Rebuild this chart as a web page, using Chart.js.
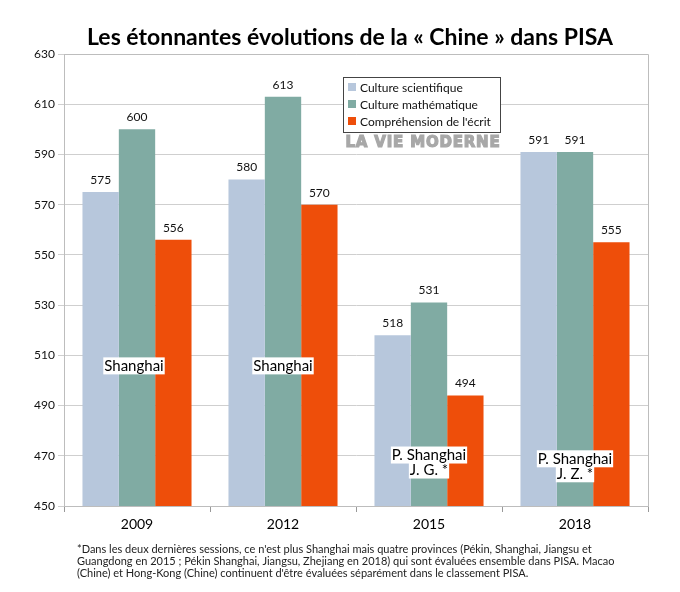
<!DOCTYPE html>
<html><head><meta charset="utf-8">
<script src="https://cdn.jsdelivr.net/npm/chart.js@4/dist/chart.umd.min.js"></script>
<style>html,body{margin:0;padding:0;background:#fff}#wrap{width:680px;height:592px;position:relative}</style>
</head><body><div id="wrap"><canvas id="c" width="680" height="592"></canvas></div>
<script>
const categories = ['2009', '2012', '2015', '2018'];
const seriesNames = ['Culture scientifique', 'Culture mathématique', "Compréhension de l'écrit"];
const science = [575, 580, 518, 591];
const maths = [600, 613, 531, 591];
const reading = [556, 570, 494, 555];
const colors = ['#b7c7dc', '#80aba3', '#ee4e0a'];
const regionLabels = [['Shanghai'], ['Shanghai'], ['P. Shanghai', 'J. G. *'], ['P. Shanghai', 'J. Z. *']];
const regionLabelY = [506, 506, 470.5, 469];
const yMin = 450, yMax = 630, yStep = 20;
const title = 'Les étonnantes évolutions de la « Chine » dans PISA';
const footnote = ["*Dans les deux dernières sessions, ce n'est plus Shanghai mais quatre provinces (Pékin, Shanghai, Jiangsu et",
  "Guangdong en 2015 ; Pékin Shanghai, Jiangsu, Zhejiang en 2018) qui sont évaluées ensemble dans PISA. Macao",
  "(Chine) et Hong-Kong (Chine) continuent d'être évaluées séparément dans le classement PISA."];
const watermark = 'LA VIE MODERNE';
const FONT = 'Lato, "Open Sans", sans-serif';
const labelDx = [-3, 0, 0, 0];

const extras = {
  id: 'extras',
  afterDatasetsDraw(chart) {
    const ctx = chart.ctx, ca = chart.chartArea, x = chart.scales.x, y = chart.scales.y;
    ctx.save();
    ctx.strokeStyle = '#bdbdbd'; ctx.lineWidth = 1;
    ctx.beginPath(); ctx.moveTo(ca.left, ca.top + 0.5); ctx.lineTo(ca.right + 0.5, ca.top + 0.5); ctx.lineTo(ca.right + 0.5, ca.bottom); ctx.stroke();
    ctx.font = '12px ' + FONT; ctx.fillStyle = '#111'; ctx.textAlign = 'center'; ctx.textBaseline = 'bottom';
    chart.data.datasets.forEach((ds, di) => {
      chart.getDatasetMeta(di).data.forEach((bar, i) => {
        ctx.fillText(String(ds.data[i]), bar.x, bar.y - 6);
      });
    });
    ctx.font = '15px ' + FONT; ctx.textBaseline = 'middle';
    regionLabels.forEach((lines, i) => {
      const cx = x.getPixelForValue(i) + labelDx[i];
      const cy0 = y.getPixelForValue(regionLabelY[i]);
      lines.forEach((t, li) => {
        const w = ctx.measureText(t).width;
        const cy = cy0 + li * 15;
        ctx.fillStyle = '#fff';
        ctx.fillRect(cx - w / 2 - 1, cy - 8, w + 2, 17);
      });
      lines.forEach((t, li) => {
        ctx.fillStyle = '#000';
        ctx.fillText(t, cx, cy0 + li * 15 + 1);
      });
    });
    const lx = 343, ly = 77, lw = 157, lh = 55;
    ctx.fillStyle = '#fff'; ctx.fillRect(lx, ly, lw, lh);
    ctx.strokeStyle = '#444'; ctx.lineWidth = 1; ctx.strokeRect(lx + 0.5, ly + 0.5, lw, lh);
    ctx.font = '12px ' + FONT; ctx.textAlign = 'left';
    seriesNames.forEach((n, i) => {
      const yy = ly + 10 + i * 17;
      ctx.fillStyle = colors[i]; ctx.fillRect(lx + 5, yy - 4, 8, 8);
      ctx.fillStyle = '#111'; ctx.fillText(n, lx + 17, yy + 1);
    });
    ctx.font = 'bold 15px "DejaVu Sans", sans-serif'; ctx.fillStyle = '#a8a8a8'; ctx.textAlign = 'center';
    ctx.strokeStyle = '#a8a8a8'; ctx.lineWidth = 1.2;
    if ('letterSpacing' in ctx) ctx.letterSpacing = '0.8px';
    ctx.fillText(watermark, 423, 143);
    ctx.strokeText(watermark, 423, 143);
    if ('letterSpacing' in ctx) ctx.letterSpacing = '0px';
    ctx.font = 'bold 23px ' + FONT; ctx.fillStyle = '#000'; ctx.textAlign = 'center';
    ctx.fillText(title, 350, 38);
    ctx.font = '11px ' + FONT; ctx.fillStyle = '#222'; ctx.textAlign = 'left'; ctx.textBaseline = 'alphabetic';
    footnote.forEach((l, i) => ctx.fillText(l, 77, 553 + i * 12));
    ctx.restore();
  }
};

new Chart(document.getElementById('c'), {
  type: 'bar',
  data: {
    labels: categories,
    datasets: [science, maths, reading].map((d, i) => ({
      label: seriesNames[i], data: d, backgroundColor: colors[i],
      categoryPercentage: 0.747, barPercentage: 1.0, borderWidth: 0
    }))
  },
  options: {
    responsive: false, animation: false,
    layout: { padding: { left: 0, top: 54, right: 32, bottom: 60 } },
    plugins: { legend: { display: false }, tooltip: { enabled: false }, title: { display: false } },
    scales: {
      x: {
        afterFit: s => { s.height = 26; },
        grid: { display: true, offset: true, drawOnChartArea: false, tickLength: 6, color: '#999' },
        border: { color: '#bdbdbd' },
        ticks: { color: '#000', font: { family: FONT, size: 14 }, padding: 4 }
      },
      y: {
        min: yMin, max: yMax,
        afterFit: s => { s.width = 64; },
        grid: { color: '#cfcfcf', tickLength: 6 },
        border: { color: '#bdbdbd' },
        ticks: { stepSize: yStep, color: '#111', font: { family: FONT, size: 12 }, padding: 3 }
      }
    }
  },
  plugins: [extras]
});
</script></body></html>
